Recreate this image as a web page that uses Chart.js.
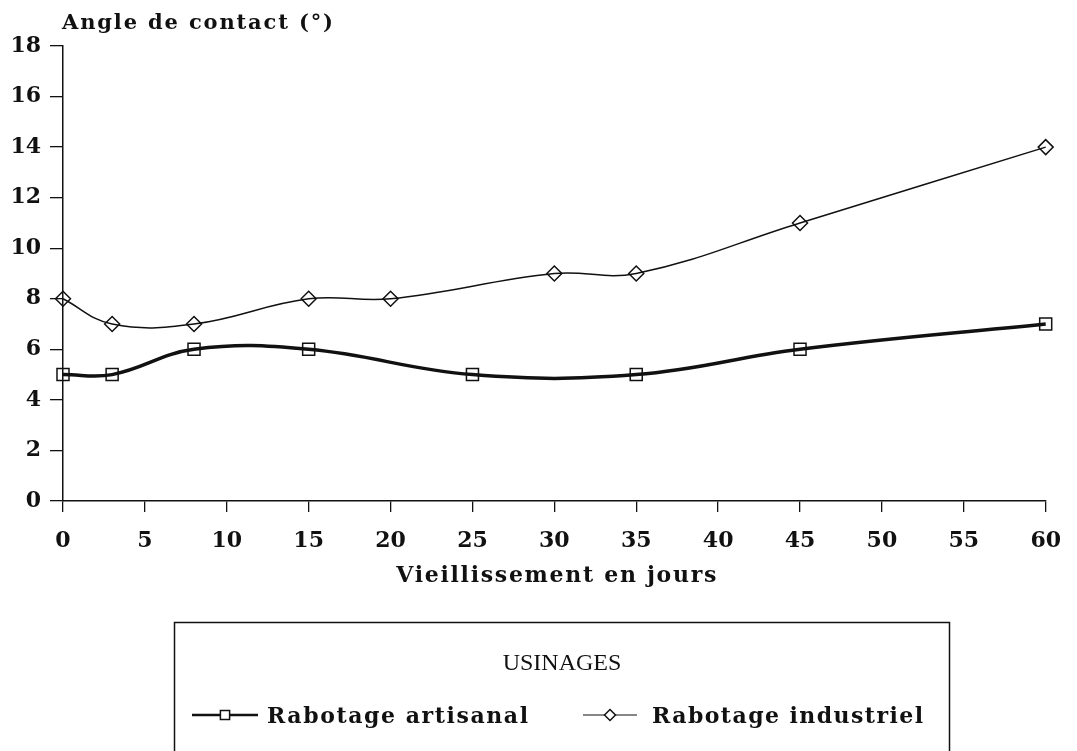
<!DOCTYPE html>
<html>
<head>
<meta charset="utf-8">
<script src="https://cdn.jsdelivr.net/npm/chart.js@4.4.1/dist/chart.umd.min.js"></script>
<style>
  html, body { margin: 0; padding: 0; background: #fff; }
  canvas { display: block; }
</style>
</head>
<body>
<canvas id="chartBox" width="1077" height="751"></canvas>
<script>
// data
const artisanalDays = [0, 3, 8, 15, 25, 35, 45, 60]
const artisanalAngle = [5, 5, 6, 6, 5, 5, 6, 7]
const industrielDays = [0, 3, 8, 15, 20, 30, 35, 45, 60]
const industrielAngle = [8, 7, 7, 8, 8, 9, 9, 11, 14]
const xTicks = [0, 5, 10, 15, 20, 25, 30, 35, 40, 45, 50, 55, 60]
const yTicks = [0, 2, 4, 6, 8, 10, 12, 14, 16, 18]
const seriesNames = ['Rabotage artisanal', 'Rabotage industriel']
const legendTitle = 'USINAGES'
const yTitle = 'Angle de contact (\u00b0)'
const xTitle = 'Vieillissement en jours'

const ink = '#111'
const serif = '"DejaVu Serif", serif'

const toPoints = (xs, ys) => xs.map((x, i) => ({ x, y: ys[i] }))

// draw text stretched with letter spacing to a given width
const fitText = (ctx, text, x, y, width, align) => {
    ctx.letterSpacing = '0px'
    const w = ctx.measureText(text).width
    const ls = Math.max(0, (width - w) / (text.length - 1))
    ctx.letterSpacing = ls + 'px'
    let start = x
    if (align === 'center') start = x - width / 2
    ctx.textAlign = 'left'
    ctx.fillText(text, start, y)
    ctx.letterSpacing = '0px'
}

const drawSample = (ctx, ds, x0, x1, y) => {
    ctx.save()
    ctx.strokeStyle = ds.borderColor
    ctx.lineWidth = ds.borderWidth > 2 ? 2.5 : 1.2
    ctx.beginPath()
    ctx.moveTo(x0, y)
    ctx.lineTo(x1, y)
    ctx.stroke()
    ctx.lineWidth = ds.pointBorderWidth
    ctx.fillStyle = '#fff'
    Chart.helpers.drawPoint(ctx, {
        pointStyle: ds.pointStyle,
        radius: ds.pointRadius - 2,
        rotation: 0,
        borderWidth: ds.pointBorderWidth
    }, (x0 + x1) / 2, y)
    ctx.restore()
}

const textPlugin = {
    id: 'texts',
    afterDraw(chart) {
        const ctx = chart.ctx
        const area = chart.chartArea
        const sets = chart.data.datasets
        ctx.save()
        ctx.fillStyle = ink
        ctx.textBaseline = 'alphabetic'

        ctx.font = 'bold 21px ' + serif
        fitText(ctx, yTitle, area.left - 1, 29, 271, 'left')

        ctx.font = 'bold 22px ' + serif
        fitText(ctx, xTitle, (area.left + area.right) / 2 + 2, 582, 320, 'center')

        // legend box
        ctx.strokeStyle = ink
        ctx.lineWidth = 1.5
        ctx.strokeRect(174.5, 622.5, 775, 200)

        ctx.font = '24px "Liberation Serif", serif'
        ctx.textAlign = 'center'
        ctx.fillText(legendTitle, 562, 670)

        drawSample(ctx, sets[0], 192, 258, 715)
        drawSample(ctx, sets[1], 583, 637, 715)
        ctx.fillStyle = ink
        ctx.font = 'bold 22px ' + serif
        fitText(ctx, sets[0].label, 267, 723, 261, 'left')
        fitText(ctx, sets[1].label, 652, 723, 271, 'left')
        ctx.restore()
    }
}

const axisStyle = {
    border: { display: true, color: ink, width: 1.5 },
    grid: { drawOnChartArea: false, drawTicks: true, color: ink, lineWidth: 1.3 },
    ticks: { color: ink, font: { family: serif, size: 22, weight: 'bold' }, autoSkip: false, maxRotation: 0 }
}

const context = document.querySelector('#chartBox').getContext('2d')
const chart = new Chart(context, {
    type: 'line',
    data: {
        datasets: [{
            label: seriesNames[0],
            data: toPoints(artisanalDays, artisanalAngle),
            borderColor: ink,
            borderWidth: 3.5,
            tension: 0.4,
            pointStyle: 'rect',
            pointRadius: 8.5,
            pointBorderWidth: 1.5,
            pointBorderColor: ink,
            pointBackgroundColor: 'rgba(0,0,0,0)',
            clip: false
        }, {
            label: seriesNames[1],
            data: toPoints(industrielDays, industrielAngle),
            borderColor: ink,
            borderWidth: 1.5,
            tension: 0.4,
            pointStyle: 'rectRot',
            pointRadius: 7.5,
            pointBorderWidth: 1.5,
            pointBorderColor: ink,
            pointBackgroundColor: 'rgba(0,0,0,0)',
            clip: false
        }]
    },
    options: {
        responsive: false,
        animation: false,
        events: [],
        layout: { padding: { top: 46, right: 21, left: 0, bottom: 190 } },
        plugins: { legend: { display: false }, tooltip: { enabled: false } },
        scales: {
            x: {
                type: 'linear',
                min: 0,
                max: 60,
                ...axisStyle,
                grid: { ...axisStyle.grid, tickLength: 11 },
                ticks: { ...axisStyle.ticks, padding: 16 },
                afterBuildTicks: s => { s.ticks = xTicks.map(v => ({ value: v })) },
                afterFit: s => { s.height = 60 }
            },
            y: {
                type: 'linear',
                min: 0,
                max: 18,
                ...axisStyle,
                grid: { ...axisStyle.grid, tickLength: 13 },
                ticks: { ...axisStyle.ticks, padding: 9 },
                afterBuildTicks: s => { s.ticks = yTicks.map(v => ({ value: v })) },
                afterFit: s => { s.width = 63 }
            }
        }
    },
    plugins: [textPlugin]
})
</script>
</body>
</html>
